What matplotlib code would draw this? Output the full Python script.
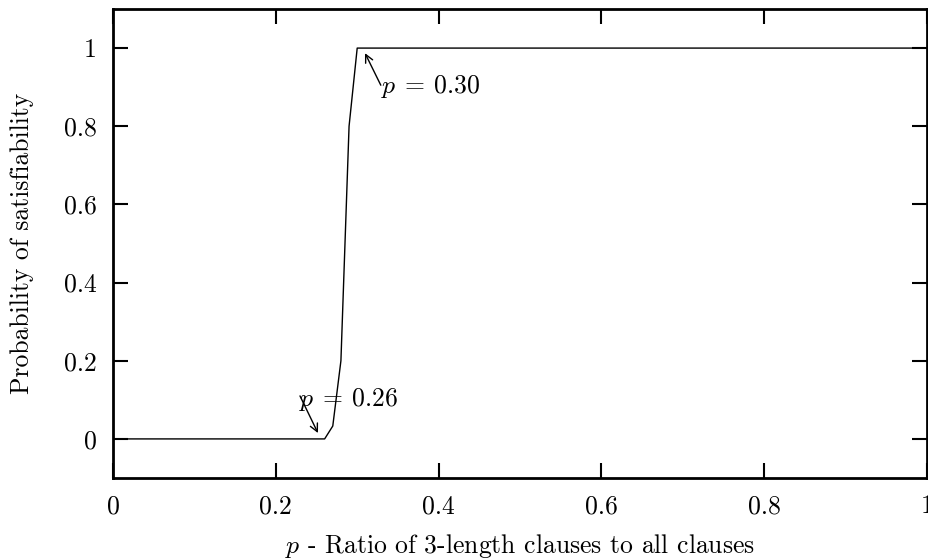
import matplotlib
matplotlib.use("Agg")
import matplotlib.pyplot as plt

# probabilidad de satisfacibilidad frente a la proporcion p
ratio = [0.0, 0.1, 0.2, 0.26, 0.27, 0.28, 0.29, 0.30, 0.4, 0.5, 0.6, 0.7, 0.8, 0.9, 1.0]
prob_sat = [0.0, 0.0, 0.0, 0.0, 0.033, 0.2, 0.8, 1.0, 1.0, 1.0, 1.0, 1.0, 1.0, 1.0, 1.0]

xticks = [0, 0.2, 0.4, 0.6, 0.8, 1]
yticks = [0, 0.2, 0.4, 0.6, 0.8, 1]
xtick_labels = ["0", "0.2", "0.4", "0.6", "0.8", "1"]
ytick_labels = ["0", "0.2", "0.4", "0.6", "0.8", "1"]

# etiquetas de los puntos de transicion: texto, punta de flecha, cola de flecha, posicion del texto
notes = [
    (r"$p\:=\:0.30$", (0.3096, 0.987), (0.329, 0.905), (0.329, 0.885)),
    (r"$p\:=\:0.26$", (0.2518, 0.015), (0.2297, 0.110), (0.2285, 0.085)),
]

plt.rcParams["font.family"] = "serif"
plt.rcParams["font.serif"] = ["cmr10", "DejaVu Serif"]
plt.rcParams["mathtext.fontset"] = "cm"
plt.rcParams["axes.unicode_minus"] = False

fs = 18.5
fig = plt.figure(figsize=(9.29, 5.59), dpi=100)
ax = fig.add_axes([113 / 929, 1 - 478 / 559, (927 - 113) / 929, (478 - 9) / 559])

ax.plot(ratio, prob_sat, color="black", lw=1.0)

ax.set_xlim(0, 1)
ax.set_ylim(-0.1, 1.1)
ax.set_xticks(xticks)
ax.set_xticklabels(xtick_labels)
ax.set_yticks(yticks)
ax.set_yticklabels(ytick_labels)
ax.tick_params(direction="in", top=True, right=True, length=11, width=1.5,
               labelsize=fs)
ax.tick_params(axis="x", pad=12)
ax.tick_params(axis="y", pad=11.5)

for s in ax.spines.values():
    s.set_linewidth(2.0)

ax.set_xlabel(r"$p$ - Ratio of 3-length clauses to all clauses", fontsize=fs)
ax.set_ylabel("Probability of satisfiability", fontsize=fs)
ax.xaxis.set_label_coords(0.5, -0.115)
ax.yaxis.set_label_coords(-0.097, 0.5)

for txt, head, tail, pos in notes:
    ax.annotate("", xy=head, xytext=tail,
                arrowprops=dict(arrowstyle="->", color="black", lw=1.0,
                                shrinkA=0, shrinkB=0, mutation_scale=14))
    ax.text(pos[0], pos[1], txt, fontsize=fs, ha="left", va="baseline")

fig.savefig("out.png", dpi=100)
